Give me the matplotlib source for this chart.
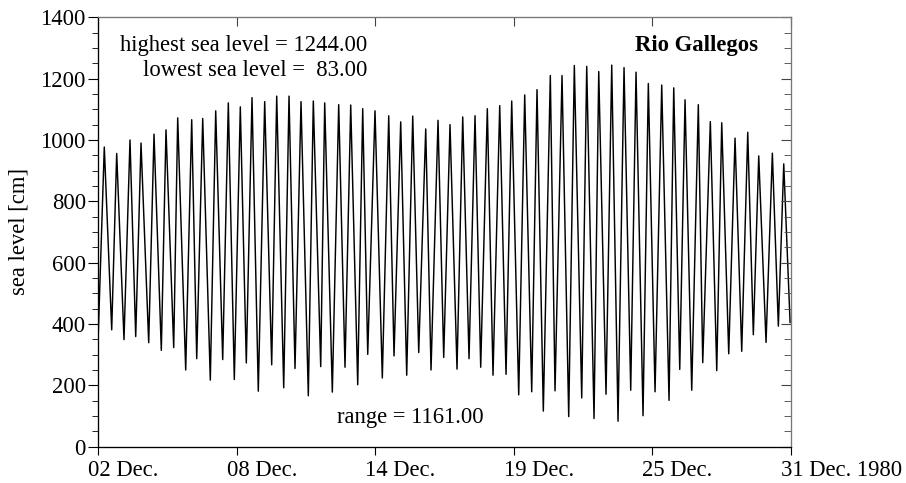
import numpy as np
import matplotlib
matplotlib.use("Agg")
import matplotlib.pyplot as plt
import matplotlib.transforms as mtransforms
from matplotlib.ticker import MultipleLocator

plt.rcParams['font.family'] = ['Liberation Serif', 'DejaVu Serif']

# tide record: days since 02 Dec. 1980 00:00
start_day, start_level = 0.0, 370
end_day, end_level = 28.96, 405

# high waters
peak_days = [0.251, 0.770, 1.327, 1.788, 2.332, 2.834, 3.324, 3.910, 4.371, 4.915,
             5.443, 5.945, 6.435, 6.966, 7.469, 7.984, 8.486, 9.001, 9.478, 10.064,
             10.567, 11.069, 11.584, 12.158, 12.660, 13.163, 13.707, 14.222, 14.724, 15.256,
             15.771, 16.286, 16.805, 17.307, 17.851, 18.366, 18.923, 19.413, 19.928, 20.447,
             20.950, 21.494, 22.009, 22.511, 23.026, 23.587, 24.090, 24.563, 25.119, 25.622,
             26.099, 26.656, 27.188, 27.648, 28.218, 28.695]
peak_levels = [977, 956, 1000, 990, 1019, 1033, 1072, 1066, 1070, 1095,
               1121, 1108, 1138, 1125, 1143, 1143, 1125, 1127, 1121, 1115,
               1114, 1102, 1095, 1079, 1059, 1078, 1036, 1064, 1050, 1075,
               1079, 1102, 1112, 1127, 1147, 1164, 1210, 1210, 1243, 1240,
               1223, 1244, 1236, 1221, 1184, 1179, 1170, 1131, 1115, 1060,
               1056, 1006, 1025, 948, 957, 922]

# low waters
trough_days = [0.561, 1.076, 1.566, 2.110, 2.638, 3.157, 3.659, 4.120, 4.689, 5.208,
               5.694, 6.196, 6.698, 7.259, 7.762, 8.235, 8.792, 9.311, 9.797, 10.328,
               10.860, 11.279, 11.890, 12.380, 12.911, 13.414, 13.929, 14.460, 15.017, 15.520,
               16.009, 16.524, 17.069, 17.600, 18.144, 18.630, 19.120, 19.693, 20.238, 20.753,
               21.255, 21.758, 22.289, 22.804, 23.307, 23.893, 24.341, 24.843, 25.304, 25.890,
               26.392, 26.936, 27.422, 27.954, 28.469]
trough_levels = [381, 349, 359, 339, 314, 323, 250, 287, 217, 284,
                 219, 273, 181, 267, 192, 255, 166, 261, 178, 259,
                 202, 301, 224, 296, 233, 307, 250, 291, 253, 287,
                 259, 233, 236, 169, 179, 116, 182, 98, 159, 92,
                 171, 83, 184, 101, 179, 151, 252, 184, 274, 248,
                 303, 311, 365, 340, 393]

tick_days = [0.0, 5.8, 11.6, 17.4, 23.2, 29.0]
tick_labels = ['02 Dec.', '08 Dec.', '14 Dec.', '19 Dec.', '25 Dec.', '31 Dec. 1980']

station = 'Rio Gallegos'
fs = 16.3

# build the series in time order
t = np.array([start_day] + peak_days + trough_days + [end_day])
h = np.array([start_level] + peak_levels + trough_levels + [end_level])
order = np.argsort(t)
t, h = t[order], h[order]

hmax, hmin = h.max(), h.min()

fig = plt.figure(figsize=(9.06, 4.83), dpi=100)
ax = fig.add_axes([0.1085, 0.0752, 0.7646, 0.889])
ax.plot(t, h, color='black', lw=1.05)

ax.set_xlim(tick_days[0], tick_days[-1])
ax.set_ylim(0, 1400)
ax.yaxis.set_major_locator(MultipleLocator(200))
ax.yaxis.set_minor_locator(MultipleLocator(50))
ax.set_xticks(tick_days)
ax.set_xticklabels([])

ax.tick_params(axis='both', which='major', direction='out', labelsize=fs,
               top=False, right=False)
ax.tick_params(axis='y', which='major', length=7, pad=2)
ax.tick_params(axis='y', which='minor', direction='out', length=4.5, right=False)
ax.tick_params(axis='x', which='major', length=6)
ax.set_ylabel('sea level [cm]', fontsize=fs, labelpad=8)

# date labels start a little left of their tick
lab_tr = mtransforms.blended_transform_factory(ax.transData, ax.transAxes) + \
    mtransforms.ScaledTranslation(-10 / 100, -13 / 100, fig.dpi_scale_trans)
for d, lab in zip(tick_days, tick_labels):
    ax.text(d, 0, lab, transform=lab_tr, ha='left', va='top', fontsize=fs, clip_on=False)

for s in ['top', 'right']:
    ax.spines[s].set_color('#777777')

# inward ticks on the right and top
ax_r = ax.twinx()
ax_r.set_ylim(ax.get_ylim())
ax_r.yaxis.set_major_locator(MultipleLocator(200))
ax_r.yaxis.set_minor_locator(MultipleLocator(50))
ax_r.tick_params(axis='y', which='major', direction='in', length=7, labelright=False, color='#444444')
ax_r.tick_params(axis='y', which='minor', direction='in', length=5, color='#444444')
ax_r.spines['right'].set_color('#777777')
ax_r.spines['top'].set_color('#777777')

ax_t = ax.twiny()
ax_t.set_xlim(ax.get_xlim())
ax_t.set_xticks(tick_days)
ax_t.tick_params(axis='x', direction='in', length=6.5, labeltop=False, color='#444444')
ax_t.spines['top'].set_color('#777777')
ax_t.spines['right'].set_color('#777777')

ax.text(0.388, 0.935, f'highest sea level = {hmax:.2f}', transform=ax.transAxes,
        ha='right', va='center', fontsize=fs)
ax.text(0.388, 0.877, f'lowest sea level =  {hmin:.2f}', transform=ax.transAxes,
        ha='right', va='center', fontsize=fs)
ax.text(0.952, 0.935, station, transform=ax.transAxes, ha='right', va='center',
        fontsize=fs, fontweight='bold')
ax.text(0.45, 0.067, f'range = {hmax - hmin:.2f}', transform=ax.transAxes,
        ha='center', va='center', fontsize=fs)

fig.savefig('out.png', dpi=100)
